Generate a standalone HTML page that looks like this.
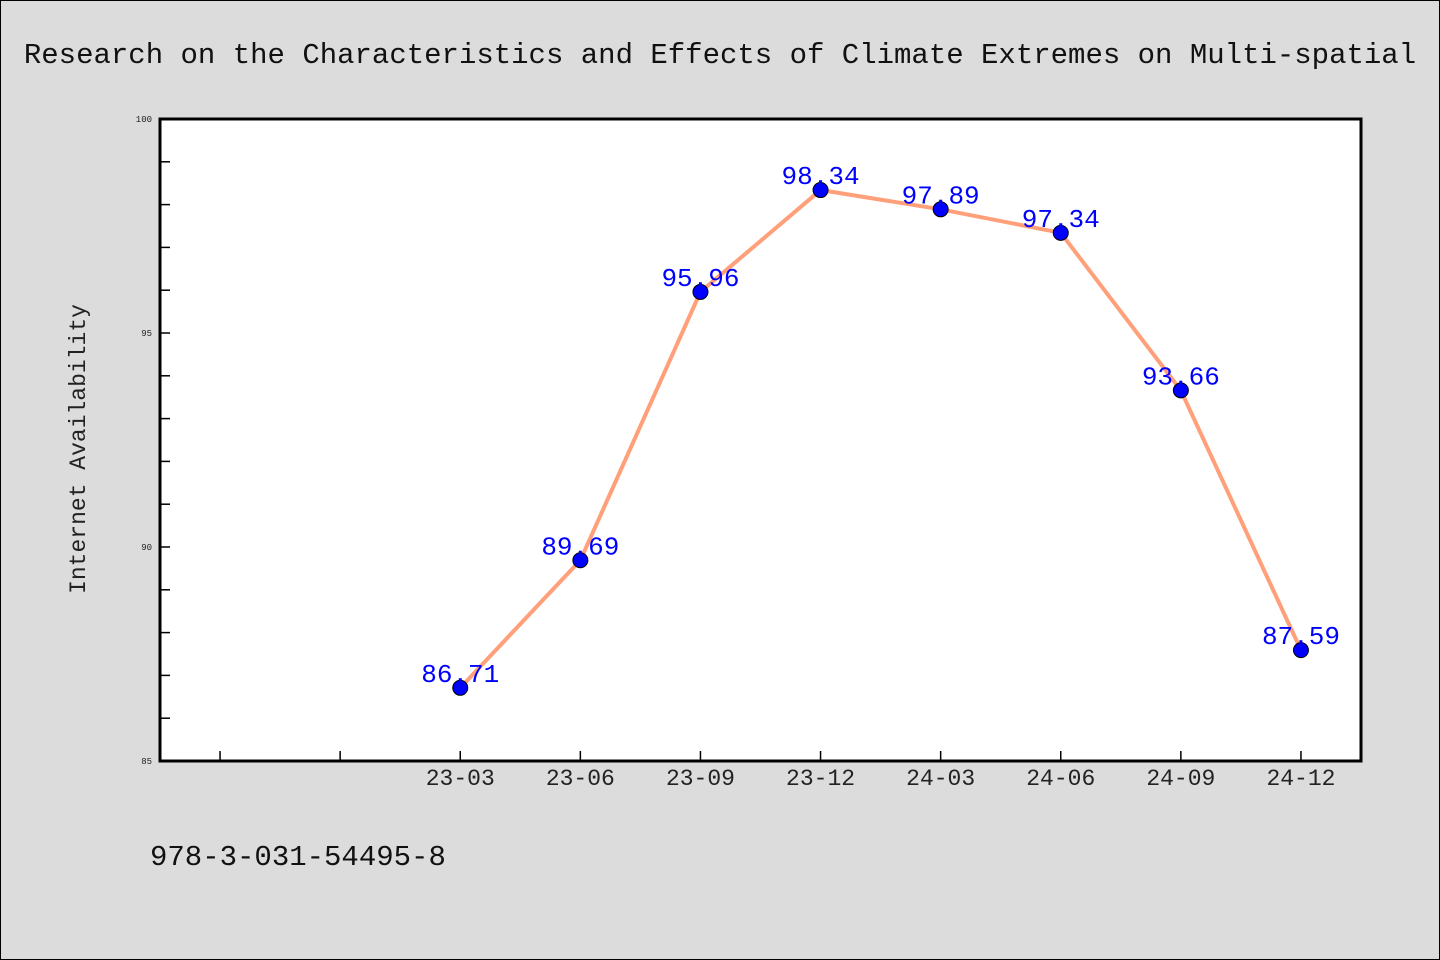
<!DOCTYPE html>
<html><head><meta charset="utf-8"><style>
html,body{margin:0;padding:0;background:#dcdcdc;}
body{width:1440px;height:960px;overflow:hidden;position:relative;font-family:"WenQuanYi Zen Hei","Liberation Mono",monospace;}
</style></head><body>
<svg id="chart" width="1440" height="960" xmlns="http://www.w3.org/2000/svg" style="position:absolute;left:0;top:0">
<rect x="0.5" y="0.5" width="1439" height="959" fill="#dcdcdc" stroke="#000" stroke-width="1"/>
<text x="720" y="63" text-anchor="middle" font-size="29" fill="#111" font-family="'WenQuanYi Zen Hei','Liberation Mono',monospace">Research on the Characteristics and Effects of Climate Extremes on Multi-spatial</text>
<rect x="160" y="119" width="1201" height="642" fill="#fff"/>
<g id="ticks"></g>
<g id="series"></g>
<rect x="160" y="119" width="1201" height="642" fill="none" stroke="#000" stroke-width="3"/>
<text transform="translate(85,449) rotate(-90)" text-anchor="middle" font-size="23" fill="#222">Internet Availability</text>
<text x="150" y="865" font-size="29" fill="#111">978-3-031-54495-8</text>
</svg>
<script>
const categories = ["23-03","23-06","23-09","23-12","24-03","24-06","24-09","24-12"];
const values = [86.71,89.69,95.96,98.34,97.89,97.34,93.66,87.59];
const valueLabels = ["86.71","89.69","95.96","98.34","97.89","97.34","93.66","87.59"];
const yTickLabels = [85,90,95,100];
const NS="http://www.w3.org/2000/svg";
const L=160,R=1361,T=119,B=761,yMin=85,yMax=100,slots=10,offset=2;
const x=i=>L+(i+offset+0.5)*(R-L)/slots;
const y=v=>B-(v-yMin)/(yMax-yMin)*(B-T);
function mk(tag,attrs,parent){const e=document.createElementNS(NS,tag);for(const k in attrs)e.setAttribute(k,attrs[k]);parent.appendChild(e);return e;}
const tg=document.getElementById('ticks'), sg=document.getElementById('series');
for(let v=yMin;v<=yMax;v++){
  const t=mk('line',{x1:L,x2:L+10,y1:y(v),y2:y(v),stroke:'#000','stroke-width':1.5},tg);
  
  
}
yTickLabels.forEach(v=>{
  const t=mk('text',{x:152,y:y(v)+3,'text-anchor':'end','font-size':9,fill:'#222'},tg);
  t.textContent=v;
  
  
});
for(let s=0;s<slots;s++){
  const xx=L+(s+0.5)*(R-L)/slots;
  const t=mk('line',{x1:xx,x2:xx,y1:B,y2:B-10,stroke:'#000','stroke-width':1.5},tg);
  
  
}
categories.forEach((c,i)=>{
  const t=mk('text',{x:x(i),y:785,'text-anchor':'middle','font-size':23,fill:'#222'},tg);
  t.textContent=c;
  
  
});
const line=mk('polyline',{points:values.map((v,i)=>x(i)+','+y(v)).join(' '),fill:'none',stroke:'#ffa07a','stroke-width':4},sg);


values.forEach((v,i)=>{
  const c=mk('circle',{cx:x(i),cy:y(v),r:7.5,fill:'#0000ff',stroke:'#000','stroke-width':1},sg);
  
  
  const t=mk('text',{x:x(i),y:y(v)-6,'text-anchor':'middle','font-size':26,fill:'#0000ff'},sg);
  t.textContent=valueLabels[i];
  
  
});
</script>
</body></html>
